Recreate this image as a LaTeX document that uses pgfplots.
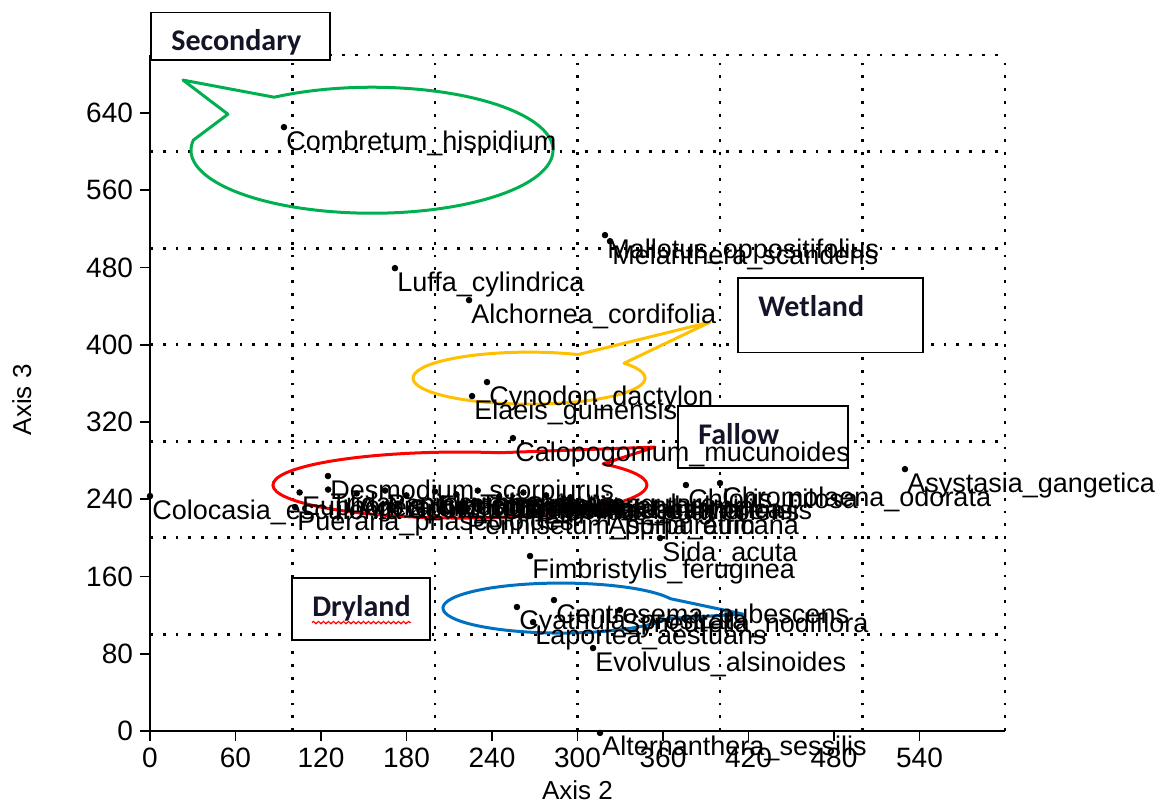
\documentclass[border=0pt]{standalone}
\usepackage{pgfplots}
\pgfplotsset{compat=1.18}
\usepackage{pgfplotstable}
\usepackage{fontspec}
\setmainfont{Liberation Sans}
\newfontfamily\boxfont{Carlito}
\usetikzlibrary{decorations.pathmorphing}
\definecolor{cgreen}{HTML}{00B050}
\definecolor{corange}{HTML}{FFC000}
\definecolor{cred}{HTML}{FF0000}
\definecolor{cblue}{HTML}{0070C0}
\definecolor{boxtext}{RGB}{20,20,40}

\pgfplotstableread{
x y label
94.0 625.3 Combretum\_hispidium
319.3 513.5 Mallotus\_oppositifolius
322.8 507.2 Melanthera\_scandens
171.9 479.3 Luffa\_cylindrica
223.9 446.2 Alchornea\_cordifolia
236.5 361.3 Cynodon\_dactylon
226.0 346.8 Elaeis\_guinensis
254.7 303.3 Calopogonium\_mucunoides
529.8 271.2 Asystasia\_gangetica
400.0 256.7 Chromolaena\_odorata
376.1 254.7 Chloris\_pilosa
124.9 264.0 Desmodium\_scorpiurus
0.0 243.3 Colocasia\_esculenta
101.8 231.9 Pueraria\_phaseoloides
105.0 247.0 Euphorbia\_heterophylla
125.0 250.0 Tridax\_procumbens
145.0 246.0 Ageratum\_conyzoides
165.0 249.0 Panicum\_maximum
180.0 244.0 Sporobolus\_pyramidalis
200.0 248.0 Eleusine\_indica
215.0 245.0 Mimosa\_pudica
230.0 249.0 Talinum\_triangulare
245.0 243.0 Commelina\_benghalensis
262.0 247.0 Spigelia\_anthelmia
278.0 244.0 Imperata\_cylindrica
295.0 242.0 Hyptis\_suaveolens
221.0 227.0 Pennisetum\_purpureum
320.0 227.0 Aspilia\_africana
357.9 199.8 Sida\_acuta
266.7 181.2 Fimbristylis\_feruginea
283.5 135.6 Centrosema\_pubescens
257.5 128.4 Cyathula\_prostrata
329.8 125.3 Synedrella\_nodiflora
268.8 112.8 Laportea\_aestuans
310.9 85.9 Evolvulus\_alsinoides
315.8 -2.0 Alternanthera\_sessilis
}\species

\begin{document}
\begin{tikzpicture}
\begin{axis}[
  scale only axis, width=427.5pt, height=338pt,
  xmin=0, xmax=600, ymin=0, ymax=700,
  axis x line=bottom, axis y line=left,
  axis line style={-, line width=1pt, black},
  xtick={0,60,...,540}, ytick={0,80,...,640},
  tick align=outside, major tick length=5pt,
  tick style={line width=0.8pt, black},
  ticklabel style={font=\fontsize{14}{16}\selectfont},
  /pgf/number format/assume math mode=true,
  extra x ticks={100,200,...,600}, extra y ticks={100,200,...,700},
  extra x tick labels={}, extra y tick labels={},
  extra tick style={grid=major, major tick length=0pt,
    major grid style={black, line width=1.4pt, dash pattern=on 1.4pt off 5pt}},
  xlabel={Axis 2}, ylabel={Axis 3},
  label style={font=\fontsize{13}{15}\selectfont},
  xlabel style={at={(axis description cs:0.5,-0.088)}, anchor=center},
  ylabel style={at={(axis description cs:-0.150,0.49)}, anchor=center},
  clip=false,
]
\addplot[only marks, mark=*, mark size=1.4pt, black,
  nodes near coords, point meta=explicit symbolic,
  every node near coord/.append style={anchor=north west, inner sep=1pt,
    font=\fontsize{13.5}{15}\selectfont, text=black, yshift=-0.5pt}]
  table[x=x, y=y, meta=label]{\species};

\coordinate (O) at (axis cs:0,0);

% callouts
\draw[cgreen, line width=1.5pt, line join=round]
  (axis cs:155.8,601.4) ++(170.8:90.5pt and 31.5pt)
  arc[start angle=170.8, end angle=482.7, x radius=90.5pt, y radius=31.5pt]
  -- (axis cs:23.2,674) -- (axis cs:54.7,638.7) -- cycle;
\draw[corange, line width=1.5pt, line join=round]
  (axis cs:266,365.4) ++(35:58pt and 13pt)
  arc[start angle=35, end angle=-295, x radius=58pt, y radius=13pt]
  -- (axis cs:393,423.4) -- cycle;
\draw[cred, line width=1.5pt, line join=round]
  (axis cs:217.5,254.7) ++(40:93.5pt and 16.5pt)
  arc[start angle=40, end angle=-282, x radius=93.5pt, y radius=16.5pt]
  -- (axis cs:354.4,294) -- cycle;
\draw[cblue, line width=1.5pt, line join=round]
  (axis cs:288.4,127.3) ++(22:59pt and 12.5pt)
  arc[start angle=22, end angle=335, x radius=59pt, y radius=12.5pt]
  -- (axis cs:416.1,121.1) -- cycle;

% text boxes
\tikzset{boxlbl/.style={anchor=north west, inner sep=0pt, xshift=10pt, yshift=-8.5pt,
  font=\boxfont\bfseries\fontsize{15}{17}\selectfont, text=boxtext}}
\draw[black, line width=0.8pt, fill=white] (axis cs:0.7,744) rectangle (axis cs:126.3,694.6);
\node[boxlbl] at (axis cs:0.7,744) {Secondary};
\draw[black, line width=0.8pt, fill=white] (axis cs:412.6,469) rectangle (axis cs:542.5,392);
\node[boxlbl] at (axis cs:412.6,469) {Wetland};
\draw[black, line width=0.8pt, fill=white] (axis cs:370.5,336.4) rectangle (axis cs:489.8,272.3);
\node[boxlbl] at (axis cs:370.5,336.4) {Fallow};
\draw[black, line width=0.8pt, fill=white] (axis cs:99.6,158.4) rectangle (axis cs:196.5,94.2);
\node[boxlbl] (dl) at (axis cs:99.6,158.4) {Dryland};
\draw[cred, line width=0.6pt, decorate, decoration={snake, amplitude=0.6pt, segment length=2.5pt}]
  ([yshift=-0.5pt]dl.south west) -- ([yshift=-0.5pt]dl.south east);
\end{axis}
\pgfresetboundingbox
\path (O) ++(-75pt,-36.5pt) rectangle ++(583.5pt,402pt);
\end{tikzpicture}
\end{document}
